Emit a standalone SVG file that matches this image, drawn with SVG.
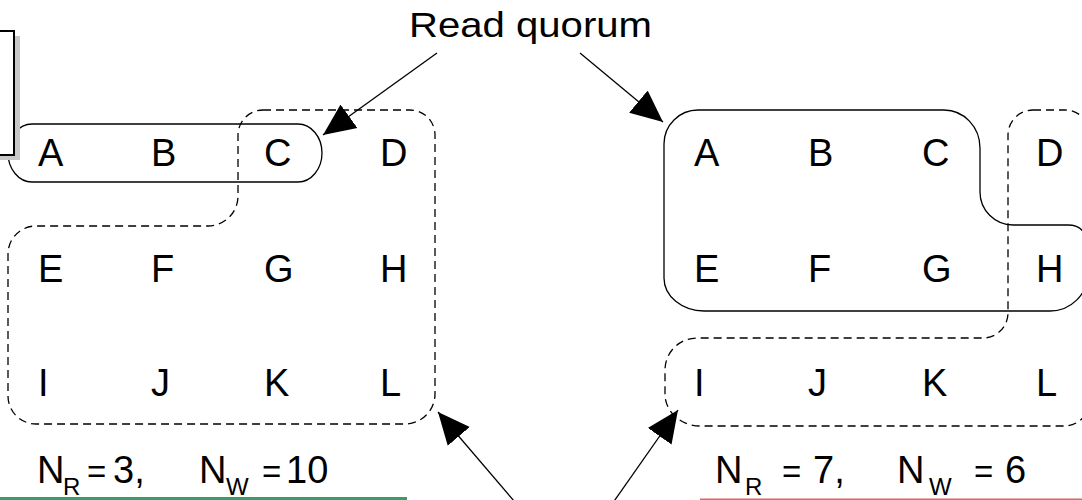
<svg xmlns="http://www.w3.org/2000/svg" width="1082" height="500" viewBox="0 0 1082 500">
<style>
  .lbl{font-family:"Liberation Sans",Arial,sans-serif;font-size:38px;fill:#000}
  .sub{font-size:24px}
  .eq{font-size:33px}
  .solid{fill:none;stroke:#000;stroke-width:1.3}
  .dash{fill:none;stroke:#000;stroke-width:1.3;stroke-dasharray:8 5}
  .conn{fill:none;stroke:#000;stroke-width:1.3}
</style>
<defs>
  <marker id="ah" markerUnits="userSpaceOnUse" markerWidth="34" markerHeight="30" refX="32" refY="15" orient="auto" viewBox="0 0 34 30">
    <path d="M0,0.5 L32,15 L0,29.5 Z" fill="#000"/>
  </marker>
</defs>
<rect width="1082" height="500" fill="#fff"/>

<g id="left-read-quorum">
  <path class="solid" d="M32,124 H298 A24,29 0 0 1 298,182 H32 A24,29 0 0 1 32,124 Z"/>
</g>
<g id="left-write-quorum">
  <path class="dash" d="M263,110 H410 A25,25 0 0 1 435,135 V394 A30,30 0 0 1 405,424 H36 A28,28 0 0 1 8,396 V254 A28,28 0 0 1 36,226 H208 A30,30 0 0 0 238,196 V135 A25,25 0 0 1 263,110 Z"/>
</g>
<g id="right-read-quorum">
  <path class="solid" d="M698,110 H944 A36,38 0 0 1 980,148 V192 A33,33 0 0 0 1013,225 H1068 C1080,225 1088,232 1088,250 V273 A38,38 0 0 1 1050,311 H704 A40,33 0 0 1 664,278 V144 A34,34 0 0 1 698,110 Z"/>
</g>
<g id="right-write-quorum">
  <path class="dash" d="M1033,110 H1065 A25,25 0 0 1 1090,135 V400 A26,26 0 0 1 1064,426 H700 A35,32 0 0 1 665,394 V370 A32,32 0 0 1 697,338 H983 A25,25 0 0 0 1008,313 V135 A25,25 0 0 1 1033,110 Z"/>
</g>

<g id="frame-box">
  <rect x="-10" y="36" width="30" height="124" fill="#c8c8c8"/>
  <rect x="-10" y="31" width="24" height="124" fill="#fff" stroke="#000" stroke-width="2"/>
</g>

<g id="left-nodes" class="lbl">
  <g id="L-A"><text x="38" y="166">A</text></g>
  <g id="L-B"><text x="151" y="166">B</text></g>
  <g id="L-C"><text x="264" y="166">C</text></g>
  <g id="L-D"><text x="380" y="166">D</text></g>
  <g id="L-E"><text x="38" y="282">E</text></g>
  <g id="L-F"><text x="151" y="282">F</text></g>
  <g id="L-G"><text x="264" y="282">G</text></g>
  <g id="L-H"><text x="380" y="282">H</text></g>
  <g id="L-I"><text x="38" y="396">I</text></g>
  <g id="L-J"><text x="151" y="396">J</text></g>
  <g id="L-K"><text x="264" y="396">K</text></g>
  <g id="L-L"><text x="380" y="396">L</text></g>
</g>
<g id="right-nodes" class="lbl">
  <g id="R-A"><text x="694" y="166">A</text></g>
  <g id="R-B"><text x="808" y="166">B</text></g>
  <g id="R-C"><text x="922" y="166">C</text></g>
  <g id="R-D"><text x="1036" y="166">D</text></g>
  <g id="R-E"><text x="694" y="282">E</text></g>
  <g id="R-F"><text x="808" y="282">F</text></g>
  <g id="R-G"><text x="922" y="282">G</text></g>
  <g id="R-H"><text x="1036" y="282">H</text></g>
  <g id="R-I"><text x="694" y="396">I</text></g>
  <g id="R-J"><text x="808" y="396">J</text></g>
  <g id="R-K"><text x="922" y="396">K</text></g>
  <g id="R-L"><text x="1036" y="396">L</text></g>
</g>

<g id="read-quorum-label">
  <text class="lbl" x="409" y="37" style="font-size:35px" textLength="243" lengthAdjust="spacingAndGlyphs">Read quorum</text>
</g>

<g id="left-formula">
  <text class="lbl" x="37" y="483">N<tspan class="sub" x="63" y="495">R</tspan><tspan class="eq" x="87" y="483">=</tspan><tspan x="113">3,</tspan><tspan x="199">N</tspan><tspan class="sub" x="226" y="495">W</tspan><tspan class="eq" x="262" y="483">=</tspan><tspan x="286">10</tspan></text>
</g>
<g id="right-formula">
  <text class="lbl" x="715" y="483">N<tspan class="sub" x="745" y="495">R</tspan><tspan class="eq" x="782" y="483">=</tspan><tspan x="813">7,</tspan><tspan x="897">N</tspan><tspan class="sub" x="929" y="495">W</tspan><tspan class="eq" x="974" y="483">=</tspan><tspan x="1005">6</tspan></text>
</g>

<g id="connectors">
  <line class="conn" x1="437" y1="53" x2="323" y2="135" marker-end="url(#ah)"/>
  <line class="conn" x1="580" y1="53" x2="663" y2="122" marker-end="url(#ah)"/>
  <line class="conn" x1="520" y1="508" x2="438" y2="412" marker-end="url(#ah)"/>
  <line class="conn" x1="610" y1="507" x2="678" y2="410" marker-end="url(#ah)"/>
</g>

<g id="underlines">
  <rect x="0" y="497" width="407" height="3" fill="#3a9b6b"/>
  <rect x="700" y="498.5" width="382" height="1.5" fill="#e06666"/>
</g>
</svg>
